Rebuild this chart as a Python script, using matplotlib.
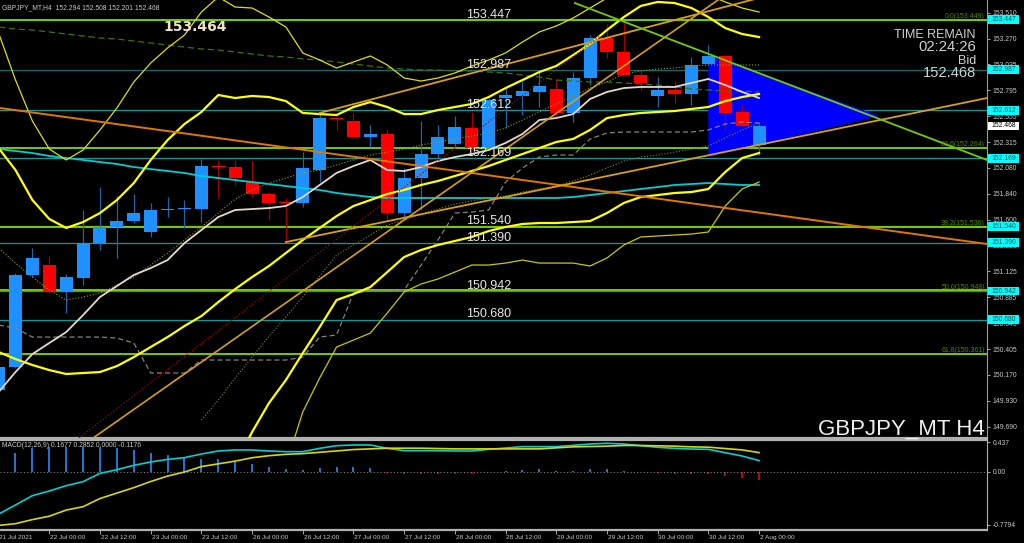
import matplotlib
matplotlib.use('Agg')
import matplotlib.pyplot as plt
import numpy as np
from matplotlib import font_manager
from matplotlib.patches import Polygon, Rectangle

names = {f.name for f in font_manager.fontManager.ttflist}
NARROW = 'Liberation Sans Narrow' if 'Liberation Sans Narrow' in names else 'Liberation Sans'
plt.rcParams['font.family'] = [NARROW, 'DejaVu Sans']
# narrow face is missing on some systems -> shrink sizes so widths match the MT4 labels
K = 1.0 if NARROW == 'Liberation Sans Narrow' else 0.82

# ---- GBPJPY H4 candles, bar -1 = 21 Jul 12:00 ----
bars = np.arange(-1, 45)
opens = [150.029, 150.241, 151.091, 151.183, 150.934, 151.063, 151.386, 151.534, 151.589, 151.488,
         151.691, 151.700, 151.700, 152.097, 152.088, 151.950, 151.839, 151.765, 151.756, 152.060,
         152.540, 152.513, 152.365, 152.393, 151.663, 151.986, 152.208, 152.300, 152.448, 152.263,
         152.725, 152.744, 152.781, 152.808, 152.587, 152.910, 153.279, 153.150, 152.937, 152.744,
         152.799, 152.762, 153.039, 153.113, 152.596, 152.294]
highs = [150.260, 151.109, 151.340, 151.266, 151.100, 151.691, 151.903, 151.820, 151.839, 151.756,
         151.811, 151.783, 152.162, 152.153, 152.153, 152.153, 151.857, 151.802, 152.226, 152.587,
         152.550, 152.587, 152.476, 152.439, 152.079, 152.513, 152.476, 152.559, 152.596, 152.725,
         152.817, 152.882, 152.965, 152.891, 152.965, 153.307, 153.408, 153.418, 152.993, 152.919,
         152.882, 153.104, 153.215, 153.113, 152.660, 152.508]
lows = [149.980, 150.230, 151.072, 150.925, 150.740, 150.998, 151.322, 151.248, 151.571, 151.442,
        151.626, 151.525, 151.580, 151.802, 151.922, 151.811, 151.599, 151.395, 151.719, 151.950,
        152.430, 152.356, 152.273, 151.589, 151.626, 151.691, 152.171, 152.273, 152.245, 152.245,
        152.448, 152.568, 152.642, 152.550, 152.504, 152.845, 153.094, 152.937, 152.799, 152.642,
        152.679, 152.660, 153.039, 152.430, 152.467, 152.201]
closes = [150.241, 151.091, 151.248, 150.934, 151.072, 151.386, 151.534, 151.589, 151.663, 151.691,
          151.695, 151.703, 152.097, 152.088, 151.986, 151.839, 151.756, 151.756, 152.079, 152.540,
          152.531, 152.365, 152.393, 151.663, 151.986, 152.208, 152.365, 152.457, 152.263, 152.707,
          152.753, 152.790, 152.836, 152.587, 152.910, 153.279, 153.150, 152.937, 152.864, 152.799,
          152.762, 153.030, 153.113, 152.587, 152.467, 152.468]

# ---- indicator lines (bars -1..44) ----
NA = np.nan
band_thin_up = [153.325, 152.891, 152.513, 152.254, 152.153, 152.245, 152.430, 152.633, 152.873, 153.048,
                153.187, 153.307, 153.519, 153.658, 153.565, 153.556, 153.473, 153.381, 153.141, 153.076,
                153.002, 153.058, 153.113, 153.030, 152.910, 152.882, 152.910, 152.956, 153.021, 153.076,
                153.141, 153.242, 153.335, 153.390, 153.464, 153.556, 153.648, 153.741, 153.796, 153.815,
                153.796, 153.741, 153.676, 153.612, 153.556, 153.519]
band_up = [152.263, 152.060, 151.783, 151.608, 151.525, 151.580, 151.663, 151.783, 151.940, 152.153,
           152.337, 152.485, 152.596, 152.753, 152.725, 152.744, 152.734, 152.697, 152.587, 152.577,
           152.568, 152.642, 152.688, 152.642, 152.577, 152.577, 152.614, 152.642, 152.670, 152.734,
           152.817, 152.891, 152.965, 153.021, 153.122, 153.224, 153.353, 153.473, 153.575, 153.612,
           153.602, 153.556, 153.473, 153.371, 153.316, 153.288]
band_low = [150.380, 150.315, 150.260, 150.213, 150.177, 150.186, 150.195, 150.250, 150.333, 150.426,
            150.518, 150.620, 150.712, 150.841, 150.961, 151.072, 151.174, 151.294, 151.414, 151.525,
            151.635, 151.728, 151.783, 151.839, 151.876, 151.922, 151.959, 152.005, 152.051, 152.097,
            152.153, 152.208, 152.263, 152.319, 152.347, 152.430, 152.540, 152.568, 152.587, 152.596,
            152.605, 152.624, 152.642, 152.697, 152.734, 152.762]
band2_low = [NA] * 14 + [149.336, 149.641, 149.909, 150.121, 150.370, 150.610, 150.860, 150.915, 150.980, 151.118,
             151.257, 151.322, 151.368, 151.405, 151.442, 151.497, 151.534, 151.562, 151.571, 151.571,
             151.580, 151.589, 151.663, 151.756, 151.811, 151.829, 151.848, 151.857, 151.885, 152.042,
             152.171, 152.217]
band2_thin_low = [NA] * 17 + [149.336, 149.826, 150.140, 150.426, 150.490, 150.555, 150.740, 150.934, 151.008,
                  151.054, 151.118, 151.183, 151.183, 151.201, 151.229, 151.201, 151.201, 151.201, 151.174,
                  151.248, 151.368, 151.442, 151.451, 151.460, 151.469, 151.488, 151.728, 151.885, 151.949]
band_mid = [151.340, 151.201, 151.072, 150.952, 150.860, 150.888, 150.924, 150.998, 151.072, 151.183,
            151.294, 151.414, 151.534, 151.663, 151.792, 151.876, 151.940, 151.986, 152.033, 152.060,
            152.106, 152.153, 152.199, 152.226, 152.254, 152.291, 152.319, 152.347, 152.374, 152.402,
            152.448, 152.522, 152.596, 152.670, 152.744, 152.817, 152.873, 152.947, 152.974, 152.993,
            153.002, 153.021, 153.030, 153.030, 153.030, 153.030]
band2_mid = [NA] * 12 + [149.752, 149.936, 150.140, 150.333, 150.527, 150.703, 150.888, 151.081, 151.275, 151.368,
             151.460, 151.552, 151.599, 151.654, 151.700, 151.746, 151.774, 151.802, 151.820, 151.857,
             151.885, 151.912, 151.959, 152.014, 152.079, 152.143, 152.180, 152.199, 152.226, 152.254,
             152.282, 152.356, 152.430, 152.494]
ma_fast = [150.010, 150.195, 150.361, 150.463, 150.564, 150.721, 150.888, 150.989, 151.091, 151.155,
           151.229, 151.386, 151.506, 151.626, 151.691, 151.700, 151.709, 151.728, 151.811, 151.922,
           152.033, 152.097, 152.153, 152.060, 152.051, 152.088, 152.143, 152.180, 152.208, 152.245,
           152.310, 152.393, 152.522, 152.540, 152.577, 152.716, 152.781, 152.817, 152.827, 152.827,
           152.827, 152.864, 152.901, 152.845, 152.781, 152.725]
kijun = [150.629, 150.601, 150.518, 150.518, 150.518, 150.518, 150.518, 150.509, 150.463, 150.186,
         150.186, 150.186, 150.306, 150.306, 150.306, 150.306, 150.306, 150.306, 150.333, 150.518,
         150.537, 150.924, 150.943, 150.943, 150.952, 151.183, 151.414, 151.663, 151.672, 151.691,
         151.949, 152.079, 152.180, 152.199, 152.199, 152.347, 152.402, 152.411, 152.411, 152.411,
         152.411, 152.411, 152.430, 152.485, 152.503, 152.494]
ma_slow = [153.381, 153.362, 153.353, 153.335, 153.316, 153.298, 153.279, 153.270, 153.251, 153.233,
           153.214, 153.196, 153.178, 153.168, 153.150, 153.131, 153.113, 153.104, 153.085, 153.076,
           153.058, 153.039, 153.021, 153.002, 152.993, 152.984, 152.984, 152.974, 152.974, 152.965,
           152.956, 152.937, 152.919, 152.891, 152.882, 152.873, 152.873, 152.864, 152.854, 152.845,
           152.827, 152.808, 152.799, 152.790, 152.790, 152.781]
ma_cyan = [152.254, 152.236, 152.217, 152.190, 152.171, 152.153, 152.134, 152.116, 152.088, 152.069,
           152.051, 152.033, 152.005, 151.986, 151.968, 151.949, 151.931, 151.912, 151.894, 151.876,
           151.848, 151.829, 151.811, 151.802, 151.802, 151.802, 151.802, 151.802, 151.802, 151.802,
           151.802, 151.802, 151.802, 151.802, 151.811, 151.829, 151.848, 151.866, 151.885, 151.903,
           151.922, 151.931, 151.940, 151.931, 151.922, 151.922]

# ---- MACD(12,26,9) ----
macd_main = [-0.62, -0.485, -0.348, -0.279, -0.201, -0.142, -0.02, 0.034, 0.098, 0.147,
             0.186, 0.211, 0.265, 0.309, 0.324, 0.324, 0.309, 0.299, 0.299, 0.348,
             0.387, 0.397, 0.397, 0.348, 0.314, 0.314, 0.314, 0.309, 0.309, 0.333,
             0.353, 0.373, 0.373, 0.373, 0.392, 0.412, 0.422, 0.412, 0.387, 0.363,
             0.348, 0.338, 0.333, 0.284, 0.235, 0.168]
macd_signal = [-0.785, -0.76, -0.70, -0.65, -0.56, -0.51, -0.39, -0.31, -0.23, -0.14,
               -0.06, 0.00, 0.08, 0.12, 0.16, 0.21, 0.24, 0.26, 0.27, 0.29,
               0.31, 0.33, 0.34, 0.35, 0.35, 0.35, 0.345, 0.34, 0.34, 0.34,
               0.34, 0.34, 0.34, 0.355, 0.37, 0.375, 0.38, 0.39, 0.39, 0.385,
               0.38, 0.37, 0.365, 0.345, 0.325, 0.285]
macd_hist = [NA, 0.275, 0.348, 0.373, 0.363, 0.373, 0.373, 0.348, 0.324, 0.284,
             0.250, 0.216, 0.186, 0.186, 0.162, 0.118, 0.069, 0.040, 0.029, 0.054,
             0.069, 0.069, 0.059, -0.020, -0.035, -0.035, -0.030, -0.030, -0.030, 0.002,
             0.012, 0.035, 0.040, 0.015, 0.020, 0.045, 0.045, 0.020, 0.001, -0.020,
             -0.030, -0.030, -0.030, -0.060, -0.090, -0.1176]

# ---- objects ----
level_prices = [153.447, 152.987, 152.612, 152.169, 151.540, 151.390, 150.942, 150.680]
fib_prices = [153.449, 152.264, 151.536, 150.948, 150.361]
fib_labels = ['0.0(153.449)', '23.6(152.264)', '38.2(151.536)', '50.0(150.948)', '61.8(150.361)']
bid = 152.468
trend_down = ([-0.92, 57.49], [152.633, 151.377])
trend_up_low = ([16, 57.49], [151.395, 152.725])
trend_up_high = ([18, 45.5], [152.587, 153.710])
trend_steep = ([4.59, 41.57], [149.586, 153.630])
trend_red = ([3.76, 34.59], [149.586, 153.298])
trend_green = ([33.1, 57.49], [153.602, 152.153])
tri_x = [41, 41, 51.15]
tri_p = [153.122, 152.180, 152.559]

yticks = [153.510, 153.270, 153.035, 152.795, 152.555, 152.315, 152.080, 151.840, 151.600,
          151.360, 151.125, 150.885, 150.645, 150.405, 150.170, 149.930, 149.690]
xtick_bars = [-1, 2, 5, 8, 11, 14, 17, 20, 23, 26, 29, 32, 35, 38, 41, 44]
xtick_labels = ['21 Jul 2021', '22 Jul 00:00', '22 Jul 12:00', '23 Jul 00:00', '23 Jul 12:00',
                '26 Jul 00:00', '26 Jul 12:00', '27 Jul 00:00', '27 Jul 12:00', '28 Jul 00:00',
                '28 Jul 12:00', '29 Jul 00:00', '29 Jul 12:00', '30 Jul 00:00', '30 Jul 12:00',
                '2 Aug 00:00']

# ---------------- figure ----------------
fig = plt.figure(figsize=(10.24, 5.43), dpi=100, facecolor='black')
ax = fig.add_axes([0, 1 - 438 / 543, 987 / 1024, 438 / 543], facecolor='black')
mx = fig.add_axes([0, 13 / 543, 987 / 1024, 90 / 543], facecolor='black')
XL = (-0.917, 57.49)
GREY = '#9a9a9a'
TXT = '#c8c8c8'
small = 5.9 * K

ax.set_xlim(*XL)
ax.set_ylim(149.586, 153.630)

# horizontal levels
for p in level_prices:
    ax.axhline(p, color='#0c6e6e' if p == 152.987 else '#119a9a', lw=0.9, zorder=1)
for p in fib_prices:
    ax.axhline(p, color='#74cc00', lw=1.4, zorder=1.1)

ax.add_patch(Polygon(list(zip(tri_x, tri_p)), closed=True, fc='#0000ff', ec='none', zorder=1.5))

# candles
o, h, l, c = map(np.array, (opens, highs, lows, closes))
up = c >= o
ax.vlines(bars[up], l[up], h[up], color='#1f64a8', lw=0.9, zorder=2)
ax.vlines(bars[~up], l[~up], h[~up], color='#a00000', lw=0.9, zorder=2)
body = np.maximum(np.abs(c - o), 0.012)
ax.bar(bars[up], body[up], bottom=np.minimum(o, c)[up], width=0.77, color='#1e90ff', zorder=2.5)
ax.bar(bars[~up], body[~up], bottom=np.minimum(o, c)[~up], width=0.77, color='#ff0000', zorder=2.5)

# indicators
ax.plot(bars, ma_slow, color='#3e7400', lw=0.9, dashes=(5, 3), zorder=3)
ax.plot(bars, ma_cyan, color='#00ced1', lw=1.3, zorder=3)
ax.plot(bars, kijun, color='#8c8078', lw=0.9, dashes=(4, 2.5), zorder=3)
ax.plot(bars, band_mid, color='#9a9a00', lw=0.8, ls=':', zorder=3)
ax.plot(bars, band2_mid, color='#8a8a00', lw=0.8, ls=':', zorder=3)
ax.plot(bars, band_thin_up, color='#e0e000', lw=0.9, zorder=3.2)
ax.plot(bars, band2_thin_low, color='#c8c800', lw=0.9, zorder=3.2)
for arr in (band_up, band_low, band2_low):
    ax.plot(bars, arr, color='#ffff00', lw=1.6, zorder=3.3)
ax.plot(bars, ma_fast, color='#e6d8cc', lw=1.3, zorder=3.4)

ax.plot(*trend_down, color='#e07800', lw=1.4, zorder=3.5)
ax.plot(*trend_up_low, color='#d8a010', lw=1.3, zorder=3.5)
ax.plot(*trend_up_high, color='#d8a010', lw=1.3, zorder=3.5)
ax.plot(*trend_steep, color='#d8a010', lw=1.2, zorder=3.5)
ax.plot(*trend_red, color='#b00000', lw=0.9, ls=':', zorder=3.5)
ax.plot(*trend_green, color='#74cc00', lw=1.3, zorder=3.5)

# level texts inside the chart
label_x = 26.66
for p in level_prices:
    ax.annotate(f'{p:.3f}', xy=(label_x, p), xytext=(0, 1.5), textcoords='offset points',
                ha='left', va='baseline', color='#e8e8e8', fontsize=11 * K, zorder=6)
for p, s in zip(fib_prices, fib_labels):
    ax.annotate(s, xy=(57.37, p), xytext=(0, 1.2), textcoords='offset points',
                ha='right', va='baseline', color='#4a8a00', fontsize=6.2 * K, zorder=6)
ax.text(10.62, 153.381, '153.464', ha='center', va='center', color='#f2e2c8',
        fontsize=10, fontweight='bold', family='DejaVu Sans', zorder=6)

# right price axis
ax.yaxis.tick_right()
ax.set_yticks(yticks)
ax.set_yticklabels([f'{v:.3f}' for v in yticks])
ax.tick_params(axis='y', colors=GREY, labelcolor=TXT, length=2.5, width=0.8,
               labelsize=small, pad=1.5)
ax.set_xticks([])
for s in ('top', 'left'):
    ax.spines[s].set_visible(False)
ax.spines['right'].set_color(GREY)
ax.spines['bottom'].set_color('#b0b0b0')
ax.spines['bottom'].set_linewidth(1.6)

ytr = ax.get_yaxis_transform()
box_h = 0.08
for p in level_prices:
    ax.add_patch(Rectangle((1.001, p - box_h / 2), 0.031, box_h, transform=ytr,
                           fc='#00ffff', ec='none', clip_on=False, zorder=7))
    ax.text(1.004, p, f'{p:.3f}', transform=ytr, ha='left', va='center',
            color='#005050', fontsize=small, clip_on=False, zorder=8)
ax.add_patch(Rectangle((1.001, bid - box_h / 2), 0.031, box_h, transform=ytr,
                       fc='white', ec='none', clip_on=False, zorder=7))
ax.text(1.004, bid, f'{bid:.3f}', transform=ytr, ha='left', va='center',
        color='black', fontsize=small, clip_on=False, zorder=8)

# ---------------- MACD panel ----------------
mx.set_xlim(*XL)
mx.set_ylim(-0.853, 0.4706)
hist = np.array(macd_hist)
pos = hist >= 0
neg = hist < 0
mx.vlines(bars[pos], 0, hist[pos], color='#1e78dc', lw=1.4)
mx.vlines(bars[neg], 0, hist[neg], color='#d00000', lw=1.4)
mx.axhline(0, color='#808080', lw=0.8, ls=(0, (1, 2)))
mx.plot(bars, macd_main, color='#00d0d0', lw=1.2)
mx.plot(bars, macd_signal, color='#d8d800', lw=1.2)

mx.yaxis.tick_right()
mx.set_yticks([0.437, 0.0, -0.7794])
mx.set_yticklabels(['0.437', '0.00', '-0.7794'])
mx.tick_params(axis='y', colors=GREY, labelcolor=TXT, length=2.5, width=0.8,
               labelsize=small, pad=1.5)
mx.set_xticks([b for b in xtick_bars if b >= XL[0]])
mx.set_xticklabels([])
mx.tick_params(axis='x', colors=GREY, length=3, width=0.8)
for b, s in zip(xtick_bars, xtick_labels):
    mx.text(b + 0.05, -0.1, s, transform=mx.get_xaxis_transform(), ha='left',
            va='baseline', color=TXT, fontsize=5.7 * K, clip_on=False)
mx.spines['left'].set_visible(False)
for s in ('top', 'right', 'bottom'):
    mx.spines[s].set_color('#b0b0b0')
mx.spines['top'].set_linewidth(1.6)
mx.spines['bottom'].set_linewidth(1.6)

# ---------------- header / info texts ----------------
fig.text(2 / 1024, 1 - 9 / 543, 'GBPJPY_MT,H4  152.294 152.508 152.201 152.468',
         color=TXT, fontsize=5.9 * K, va='baseline')
fig.text(2 / 1024, 1 - 447 / 543, 'MACD(12,26,9) 0.1677 0.2852 0.0000 -0.1176',
         color=TXT, fontsize=5.9 * K, va='baseline')
info = [('TIME REMAIN', 38, 11), ('02:24:26', 51, 13), ('Bid', 64, 11), ('152.468', 77, 13)]
for s, yb, fs in info:
    fig.text(976 / 1024, 1 - yb / 543, s, ha='right', va='baseline', color='#d0d0d0',
             fontsize=fs * K)
fig.text(985 / 1024, 1 - 435 / 543, 'GBPJPY_MT H4', ha='right', va='baseline',
         color='#f0f0f0', fontsize=19.5 * K)

fig.savefig('out.png', dpi=100, facecolor='black')
